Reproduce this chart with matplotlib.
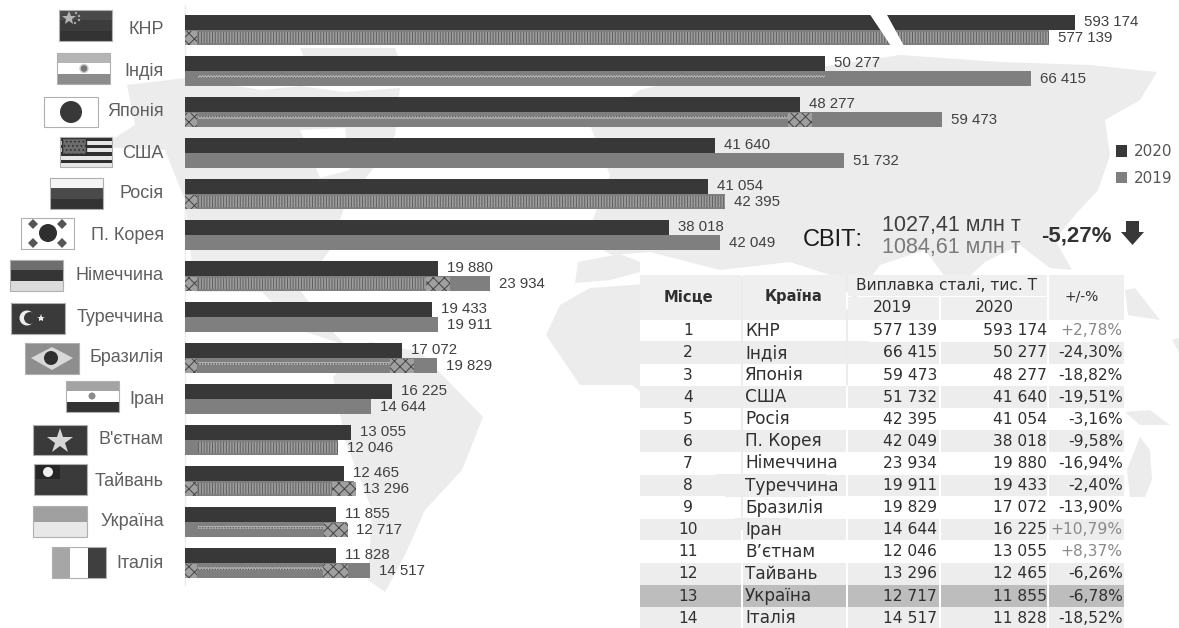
import numpy as np
import matplotlib
matplotlib.use('Agg')
import matplotlib.pyplot as plt
from matplotlib.patches import Polygon, Rectangle, Circle, RegularPolygon

plt.rcParams['font.family'] = ['Liberation Sans', 'DejaVu Sans']
plt.rcParams['hatch.linewidth'] = 0.7

countries = ['КНР', 'Індія', 'Японія', 'США', 'Росія', 'П. Корея', 'Німеччина',
             'Туреччина', 'Бразилія', 'Іран', "В'єтнам", 'Тайвань', 'Україна', 'Італія']
table_countries = ['КНР', 'Індія', 'Японія', 'США', 'Росія', 'П. Корея', 'Німеччина',
                   'Туреччина', 'Бразилія', 'Іран', 'В’єтнам', 'Тайвань', 'Україна', 'Італія']
v2020 = [593174, 50277, 48277, 41640, 41054, 38018, 19880,
         19433, 17072, 16225, 13055, 12465, 11855, 11828]
v2019 = [577139, 66415, 59473, 51732, 42395, 42049, 23934,
         19911, 19829, 14644, 12046, 13296, 12717, 14517]
pct = ['+2,78%', '-24,30%', '-18,82%', '-19,51%', '-3,16%', '-9,58%', '-16,94%',
       '-2,40%', '-13,90%', '+10,79%', '+8,37%', '-6,26%', '-6,78%', '-18,52%']

DARK = '#383838'
GREY = '#7f7f7f'
LAND = '#ececec'
W, H = 1179, 628


def fmt(v):
    return f'{v:,}'.replace(',', ' ')


fig = plt.figure(figsize=(W / 100, H / 100), dpi=100)

# pixel canvas for the map, flags and table
px = fig.add_axes([0, 0, 1, 1], zorder=0)
px.set_xlim(0, W)
px.set_ylim(H, 0)
px.axis('off')

# rough world map behind everything
land = [
    [(127, 85), (185, 78), (262, 90), (300, 86), (345, 92), (400, 88), (395, 135),
     (372, 170), (345, 205), (330, 250), (300, 290), (322, 320), (345, 345), (300, 330), (262, 292),
     (195, 292), (185, 200), (165, 150), (100, 147), (135, 125)],
    [(300, 48), (395, 48), (400, 62), (350, 78), (310, 70)],
    [(333, 377), (370, 342), (420, 352), (483, 417), (462, 470), (425, 510), (405, 555), (385, 592),
     (368, 580), (372, 510), (345, 440)],
    [(585, 240), (610, 175), (590, 125), (640, 90), (700, 75), (800, 70), (900, 55),
     (1000, 62), (1090, 65), (1157, 72), (1140, 100), (1105, 120), (1110, 155), (1098, 190),
     (1075, 215), (1055, 240), (1072, 270), (1050, 268), (1020, 245), (985, 262), (955, 290),
     (925, 250), (880, 265), (855, 300), (830, 275), (790, 262), (720, 270), (650, 252), (612, 255)],
    [(575, 283), (578, 262), (620, 254), (640, 262), (640, 272), (610, 280)],
    [(546, 335), (560, 305), (590, 288), (632, 285), (760, 275), (820, 300), (880, 320), (840, 400),
     (830, 470), (780, 530), (740, 530), (700, 440), (632, 385), (580, 385)],
    [(1127, 470), (1140, 437), (1150, 450), (1152, 480), (1145, 497), (1130, 497)],
    [(1125, 412), (1150, 410), (1170, 425), (1140, 425)],
    [(1125, 290), (1135, 288), (1160, 320), (1128, 315)],
    [(1172, 340), (1179, 338), (1179, 352)],
]
for poly in land:
    px.add_patch(Polygon(poly, closed=True, fc=LAND, ec='none', zorder=0))

# Hudson bay
px.add_patch(Polygon([(300, 130), (345, 128), (350, 170), (320, 178)], fc='white', ec='none', zorder=0.5))

px.plot([185, 185], [5, 585], color='#ececec', lw=1, zorder=1)


# flags are small pictograms, drawn as stacked bands
def flag(x, y, bands, w=53, h=31, vertical=False):
    n = len(bands)
    for k, c in enumerate(bands):
        if vertical:
            px.add_patch(Rectangle((x + k * w / n, y), w / n, h, fc=c, ec='none', zorder=2))
        else:
            px.add_patch(Rectangle((x, y + k * h / n), w, h / n, fc=c, ec='none', zorder=2))
    px.add_patch(Rectangle((x, y), w, h, fc='none', ec='#b0b0b0', lw=0.8, zorder=4))


flag(59, 10, ['#4a4a4a', '#3c3c3c', '#333333'])
px.plot([69], [18], marker='*', ms=10, color='#b5b5b5', mew=0, zorder=3)
for sx, sy in [(76, 13), (79, 16), (79, 20), (75, 23)]:
    px.add_patch(Circle((sx, sy), 1.2, fc='#a8a8a8', ec='none', zorder=3))
flag(57, 53, ['#b5b5b5', '#ffffff', '#8c8c8c'])
px.add_patch(Circle((84, 68.5), 4, fc='#777777', ec='#cccccc', zorder=3))
flag(44, 97, ['#ffffff'], w=54, h=30)
px.add_patch(Circle((71, 112), 11, fc='#383838', ec='none', zorder=3))
flag(60, 137, ['#2f2f2f', '#e6e6e6'] * 4, w=52, h=30)
px.add_patch(Rectangle((62, 138), 24, 16, fc='#6d6d6d', ec='#2f2f2f', hatch='....', zorder=3))
flag(50, 178, ['#f4f4f4', '#4a4a4a', '#333333'])
flag(21, 218, ['#ffffff'])
px.add_patch(Circle((48, 233), 9, fc='#2f2f2f', ec='none', zorder=3))
for sx, sy in [(33, 224), (62, 224), (33, 243), (62, 243)]:
    px.add_patch(RegularPolygon((sx, sy), 4, radius=5, fc='#555555', ec='none', zorder=3))
flag(10, 260, ['#6e6e6e', '#353535', '#dcdcdc'])
flag(11, 303, ['#3a3a3a'], w=54)
px.add_patch(Circle((27, 318), 7.5, fc='#eeeeee', ec='none', zorder=3))
px.add_patch(Circle((30, 318), 6, fc='#3a3a3a', ec='none', zorder=3))
px.plot([41], [318], marker='*', ms=6, color='#eeeeee', mew=0, zorder=3)
flag(25, 343, ['#8e8e8e'], w=54)
px.add_patch(Polygon([(31, 358), (52, 347), (73, 358), (52, 370)], fc='#d8d8d8', ec='none', zorder=3))
px.add_patch(Circle((51, 358), 7, fc='#2f2f2f', ec='none', zorder=3))
flag(66, 381, ['#a3a3a3', '#ffffff', '#333333'])
px.add_patch(Circle((92, 396), 3.5, fc='#8a8a8a', ec='none', zorder=3))
flag(33, 425, ['#3a3a3a'], w=54, h=30)
px.plot([60], [441], marker='*', ms=19, color='#d6d6d6', mew=0, zorder=3)
flag(34, 464, ['#3a3a3a'])
px.add_patch(Rectangle((36, 465), 24, 14, fc='#262626', ec='none', zorder=3))
px.add_patch(Circle((48, 472), 5, fc='#efefef', ec='none', zorder=3))
flag(33, 506, ['#a0a0a0', '#e8e8e8'], w=54)
flag(52, 547, ['#a6a6a6', '#ffffff', '#3f3f3f'], w=54, vertical=True)

# broken scale: the China bars are squeezed into the same width
knots_v = [0, 67000, 577139, 593174, 700000]
knots_px = [0, 853, 864, 890, 994]


def forward(x):
    return np.interp(x, knots_v, knots_px)


def inverse(x):
    return np.interp(x, knots_px, knots_v)


ax = fig.add_axes([185 / W, 0, 994 / W, 1], zorder=1)
ax.patch.set_alpha(0)
ax.set_xscale('function', functions=(forward, inverse))
ax.set_xlim(0, 700000)
ax.set_ylim((H - 30) / 41, -30 / 41)
ax.axis('off')

y = np.arange(len(countries))
bar_h = 0.378
ax.barh(y - bar_h / 2, v2020, height=bar_h, color=DARK, label='2020', zorder=2)
ax.barh(y + bar_h / 2, v2019, height=bar_h, color=GREY, label='2019', zorder=2)

# scan artefacts on the 2019 bars
ends = np.minimum(v2019, v2020)
ends[0] = v2019[0]
ends[4] = v2019[4]
for i in [0, 4, 6, 10, 11]:
    ax.barh(i + bar_h / 2, ends[i] - 1000, left=1000, height=bar_h * 0.72, color='#9c9c9c',
            edgecolor='#5f5f5f', hatch='||||||', lw=0, zorder=3)
for i in [1, 2, 8, 12, 13]:
    ax.barh(i + bar_h * 0.36, ends[i] - 1000, left=1000, height=bar_h * 0.2, color='#b0b0b0',
            edgecolor='#555555', hatch='......', lw=0, zorder=3)
for i in [0, 2, 4, 6, 8, 11, 13]:
    ax.barh(i + bar_h / 2, 950, height=bar_h * 0.9, color='#a0a0a0', edgecolor='#444444',
            hatch='xxx', lw=0, zorder=3)
for i in [2, 6, 8, 11, 12, 13]:
    ax.barh(i + bar_h / 2, 1900, left=ends[i] - 950, height=bar_h * 0.9, color='#a0a0a0',
            edgecolor='#444444', hatch='xxx', lw=0, zorder=3)

for i in y:
    ax.annotate(fmt(v2020[i]), (v2020[i], i - bar_h / 2), xytext=(9, 0), textcoords='offset pixels',
                ha='left', va='center', fontsize=10.8, color='#404040', annotation_clip=False, zorder=5)
    ax.annotate(fmt(v2019[i]), (v2019[i], i + bar_h / 2), xytext=(9, 0), textcoords='offset pixels',
                ha='left', va='center', fontsize=10.8, color='#404040', annotation_clip=False, zorder=5)
    ax.annotate(countries[i], (0, i), xytext=(-21, 0), textcoords='offset pixels', ha='right',
                va='center', fontsize=13, color='#5f5f5f', annotation_clip=False)

# white cut through the China bars
ax.add_patch(Polygon([(869, 13), (886, 13), (904, 46), (891, 46)], fc='white', ec='none',
                     transform=px.transData, zorder=4))

leg = ax.legend(loc='center left', bbox_to_anchor=(1102, 165), bbox_transform=px.transData, frameon=False,
                prop={'family': 'DejaVu Sans', 'size': 11}, labelcolor='#555555', handlelength=0.75,
                handleheight=0.75, handletextpad=0.45, labelspacing=0.75)

# world total block
px.text(803, 240, 'СВІТ:', fontsize=17, color='#1a1a1a', va='center', zorder=5)
px.text(882, 225, '1027,41 млн т', fontsize=15.5, color='#404040', va='center', zorder=5)
px.text(882, 247, '1084,61 млн т', fontsize=15.5, color='#7a7a7a', va='center', zorder=5)
px.text(1041, 236, '-5,27%', fontsize=16, color='#333333', va='center', weight='bold', zorder=5)
px.add_patch(Polygon([(1126, 221), (1139, 221), (1139, 232), (1144, 232), (1132.5, 245), (1121, 232), (1126, 232)],
                     fc=DARK, ec='none', zorder=5))

# table
cols = [(640, 741), (743, 846), (848, 939), (941, 1047), (1049, 1124)]
HEAD = '#efefef'
for c0, c1 in [cols[0], cols[1], cols[4]]:
    px.add_patch(Rectangle((c0, 275), c1 - c0, 45, fc=HEAD, ec='none', zorder=3))
px.add_patch(Rectangle((848, 275), 199, 21, fc=HEAD, ec='none', zorder=3))
px.add_patch(Rectangle((848, 297), 91, 23, fc=HEAD, ec='none', zorder=3))
px.add_patch(Rectangle((941, 297), 106, 23, fc=HEAD, ec='none', zorder=3))

tfont = {'family': 'DejaVu Sans', 'fontsize': 11.2, 'va': 'center', 'zorder': 5}
hfont = dict(tfont, fontsize=10.6, color='#303030', ha='center')
px.text(688, 297, 'Місце', weight='bold', **hfont)
px.text(794, 297, 'Країна', weight='bold', **hfont)
px.text(947, 286, 'Виплавка сталі, тис. Т', **dict(hfont, fontsize=11.2))
px.text(892, 308, '2019', **dict(hfont, fontsize=11.2))
px.text(994, 308, '2020', **dict(hfont, fontsize=11.2))
px.text(1082, 297, '+/-%', **dict(hfont, fontsize=10))

row_h = 22.1
for i in range(14):
    top = 319.8 + i * row_h
    cy = top + row_h / 2
    if i == 12:
        bg = '#bdbdbd'
    elif i % 2 == 1:
        bg = '#ededed'
    else:
        bg = '#ffffff'
    for c0, c1 in cols:
        px.add_patch(Rectangle((c0, top), c1 - c0, row_h - 0.5, fc=bg, ec='none', zorder=3))
    px.text(688, cy, str(i + 1), color='#303030', ha='center', **tfont)
    px.text(745, cy, table_countries[i], color='#303030', ha='left', **dict(tfont, fontsize=12.2))
    px.text(937, cy, fmt(v2019[i]), color='#303030', ha='right', **tfont)
    px.text(1047, cy, fmt(v2020[i]), color='#303030', ha='right', **tfont)
    px.text(1123, cy, pct[i], color='#8a8a8a' if pct[i][0] == '+' else '#303030', ha='right', **tfont)

fig.savefig('out.png', dpi=100)
